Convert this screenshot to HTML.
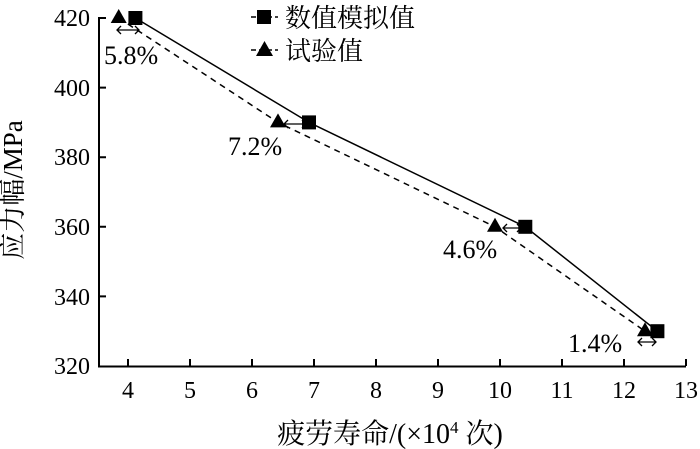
<!DOCTYPE html>
<html><head><meta charset="utf-8"><style>
body{margin:0;background:#fff;}
svg{display:block;font-family:"Liberation Serif","Noto Serif CJK SC",serif;}
</style></head><body>
<svg width="700" height="449" viewBox="0 0 700 449" xmlns="http://www.w3.org/2000/svg">
<g stroke="#000" stroke-width="2" fill="none">
<path d="M106 18 H99 V366.5 H686"/>
<path d="M99 87.6 H106 M99 157.2 H106 M99 226.8 H106 M99 296.4 H106"/>
<path d="M128 366 v-7 M190 366 v-7 M252 366 v-7 M314 366 v-7 M376 366 v-7 M438 366 v-7 M500 366 v-7 M562 366 v-7 M624 366 v-7 M686 366 v-7"/>
</g>
<g font-size="24" text-anchor="end">
<text x="90" y="26">420</text><text x="90" y="96">400</text><text x="90" y="165">380</text><text x="90" y="235">360</text><text x="90" y="305">340</text><text x="90" y="374">320</text>
</g>
<g font-size="24" text-anchor="middle">
<text x="128" y="398">4</text><text x="190" y="398">5</text><text x="252" y="398">6</text><text x="314" y="398">7</text><text x="376" y="398">8</text><text x="438" y="398">9</text><text x="500" y="398">10</text><text x="562" y="398">11</text><text x="624" y="398">12</text><text x="686" y="398">13</text>
</g>
<text x="390" y="443" font-size="28" text-anchor="middle">疲劳寿命/(×10<tspan font-size="17" dy="-10">4</tspan><tspan dy="10"> 次)</tspan></text>
<text transform="translate(22,190) rotate(-90)" font-size="27" text-anchor="middle">应力幅/MPa</text>
<polyline points="135.4,18 309,122.4 525.3,226.8 657.4,331.2" fill="none" stroke="#000" stroke-width="1.5"/>
<polyline points="118.7,18 278,122.4 495,226.8 645,331.2" fill="none" stroke="#000" stroke-width="1.5" stroke-dasharray="6,5"/>
<g fill="#000">
<rect x="128.4" y="11" width="14" height="14"/><rect x="302" y="115.4" width="14" height="14"/><rect x="518.3" y="219.8" width="14" height="14"/><rect x="650.4" y="324.2" width="14" height="14"/>
<polygon points="118.7,9 110.7,23 126.7,23"/><polygon points="278,113.4 270,127.4 286,127.4"/><polygon points="495,217.8 487,231.8 503,231.8"/><polygon points="645,322.2 637,336.2 653,336.2"/>
</g>
<g stroke="#000" stroke-width="1.3" fill="none">
<path d="M117 30 H139 M121 26 L117 30 L121 34 M135 26 L139 30 L135 34"/>
<path d="M284 124 H306 M288 120 L284 124 L288 128 M302 120 L306 124 L302 128"/>
<path d="M503 228 H521 M507 224 L503 228 L507 232 M517 224 L521 228 L517 232"/>
<path d="M638 342 H656 M642 338 L638 342 L642 346 M652 338 L656 342 L652 346"/>
</g>
<g font-size="26">
<text x="104" y="64">5.8%</text><text x="228" y="155">7.2%</text><text x="443" y="258">4.6%</text><text x="568" y="352">1.4%</text>
</g>
<g stroke="#000" stroke-width="1.5" stroke-dasharray="5,3">
<line x1="251" y1="17" x2="278" y2="17"/><line x1="251" y1="50" x2="278" y2="50"/>
</g>
<rect x="257" y="10" width="14" height="14" fill="#000"/>
<polygon points="264.5,41 256,56 273,56" fill="#000"/>
<g font-size="26"><text x="285" y="27">数值模拟值</text><text x="285" y="60">试验值</text></g>
</svg>
</body></html>
